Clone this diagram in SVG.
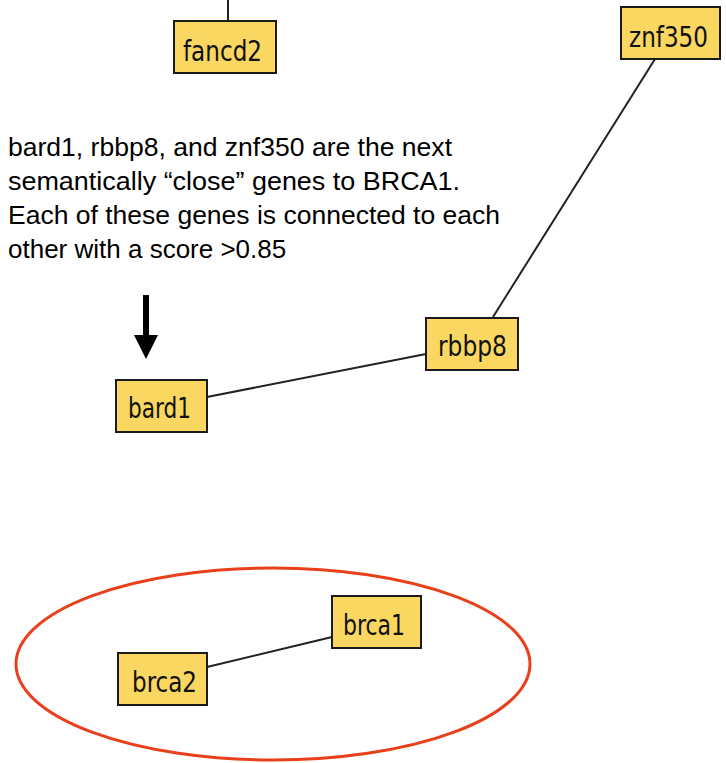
<svg xmlns="http://www.w3.org/2000/svg" width="726" height="763" viewBox="0 0 726 763">
<style>
.node rect{fill:#FAD760;stroke:#1a1a1a;stroke-width:2}
.node text{font-family:"DejaVu Sans Condensed","DejaVu Sans",sans-serif;font-size:28px;fill:#111}
.edge{stroke:#222;stroke-width:2;fill:none}
.note{font-family:"Liberation Sans",Arial,sans-serif;font-size:26px;fill:#000}
</style>
<rect width="726" height="763" fill="#fff"/>
<g id="connectors">
<line class="edge" x1="228" y1="0" x2="228" y2="20"/>
<line class="edge" x1="655" y1="59" x2="493" y2="317"/>
<line class="edge" x1="207" y1="397" x2="426" y2="354"/>
<line class="edge" x1="207" y1="667" x2="332" y2="637"/>
</g>
<g id="fancd2" class="node"><rect x="174" y="21" width="102" height="52"/><text x="183" y="61" textLength="79" lengthAdjust="spacingAndGlyphs">fancd2</text></g>
<g id="znf350" class="node"><rect x="621" y="7" width="99" height="52"/><text x="629" y="47" textLength="79" lengthAdjust="spacingAndGlyphs">znf350</text></g>
<g id="rbbp8" class="node"><rect x="426" y="318" width="92" height="52"/><text x="438" y="356" textLength="69" lengthAdjust="spacingAndGlyphs">rbbp8</text></g>
<g id="bard1" class="node"><rect x="116" y="380" width="91" height="52"/><text x="128" y="418" textLength="63" lengthAdjust="spacingAndGlyphs">bard1</text></g>
<g id="brca1" class="node"><rect x="332" y="596" width="89" height="52"/><text x="343" y="635" textLength="62" lengthAdjust="spacingAndGlyphs">brca1</text></g>
<g id="brca2" class="node"><rect x="118" y="653" width="89" height="52"/><text x="132" y="692" textLength="65" lengthAdjust="spacingAndGlyphs">brca2</text></g>
<g id="note">
<text class="note" x="8" y="156" textLength="444" lengthAdjust="spacingAndGlyphs">bard1, rbbp8, and znf350 are the next</text>
<text class="note" x="8" y="190" textLength="452" lengthAdjust="spacingAndGlyphs">semantically “close” genes to BRCA1.</text>
<text class="note" x="8" y="224" textLength="492" lengthAdjust="spacingAndGlyphs">Each of these genes is connected to each</text>
<text class="note" x="8" y="258">other with a score &gt;0.85</text>
</g>
<g id="arrow">
<rect x="143" y="295" width="6" height="42" fill="#000"/>
<polygon points="134,335 158,335 146,359" fill="#000"/>
</g>
<ellipse id="highlight" cx="273" cy="664" rx="257" ry="96" fill="none" stroke="#E8401C" stroke-width="3"/>
</svg>
